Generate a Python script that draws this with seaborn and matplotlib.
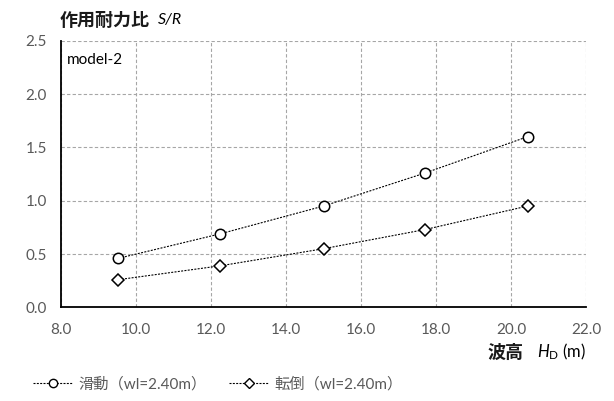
import matplotlib
matplotlib.use("Agg")
import matplotlib.pyplot as plt
import seaborn as sns
import pandas as pd
from matplotlib.lines import Line2D

# Data
wave_height = [9.53, 12.25, 15.0, 17.71, 20.44]
sliding = [0.46, 0.69, 0.95, 1.26, 1.60]
overturning = [0.26, 0.39, 0.55, 0.73, 0.95]
series_names = ["滑動（wl=2.40m）", "転倒（wl=2.40m）"]
x_ticks = [8.0, 10.0, 12.0, 14.0, 16.0, 18.0, 20.0, 22.0]
y_ticks = [0.0, 0.5, 1.0, 1.5, 2.0, 2.5]

sns.set_style("white")
plt.rcParams['font.family'] = ['Lato', 'Noto Sans CJK JP', 'DejaVu Sans']
plt.rcParams['mathtext.fontset'] = 'custom'
plt.rcParams['mathtext.rm'] = 'Lato'
plt.rcParams['mathtext.it'] = 'Lato:italic'

df = pd.DataFrame({
    "x": wave_height * 2,
    "y": sliding + overturning,
    "series": [series_names[0]] * 5 + [series_names[1]] * 5,
})

fig = plt.figure(figsize=(6.14, 4.01), dpi=100)
ax = fig.add_axes([61/614, 1 - 307.4/401, (586 - 61)/614, (307.4 - 40.7)/401])

LS = (0, (1.8, 1.2))
markers = {series_names[0]: 'o', series_names[1]: 'D'}
sizes = {series_names[0]: 7.5, series_names[1]: 6.5}
for name in series_names:
    sub = df[df.series == name]
    sns.lineplot(data=sub, x="x", y="y", ax=ax, color='black', linestyle=LS,
                 linewidth=0.8, marker=markers[name], markersize=sizes[name],
                 markerfacecolor='white', markeredgecolor='black', markeredgewidth=1.1,
                 legend=False)

ax.set_xlim(8, 22)
ax.set_ylim(0, 2.5)
ax.set_xticks(x_ticks)
ax.set_yticks(y_ticks)
ax.set_xticklabels([f"{v:.1f}" for v in x_ticks])
ax.set_yticklabels([f"{v:.1f}" for v in y_ticks])
ax.tick_params(axis='both', length=0, labelsize=11, colors='#595959')
ax.tick_params(axis='x', pad=11)
ax.tick_params(axis='y', pad=10)
ax.grid(True, color='#a6a6a6', linestyle=(0, (3, 2)), linewidth=0.8)
ax.set_axisbelow(True)
ax.set_xlabel("")
ax.set_ylabel("")
for s in ['top', 'right']:
    ax.spines[s].set_visible(False)
ax.spines['left'].set_color('black')
ax.spines['left'].set_linewidth(1.3)
ax.spines['bottom'].set_color('black')
ax.spines['bottom'].set_linewidth(1.3)

# Title texts
fig.text(60/614, 1 - 20/401, "作用耐力比", fontsize=13, fontweight='bold', color='#1a1a1a',
         va='center', ha='left', family=['Noto Sans CJK JP'])
fig.text(158/614, 1 - 20/401, "S/R", fontsize=11.5, style='italic', color='black',
         va='center', ha='left')
ax.text(0.012, 0.955, "model-2", transform=ax.transAxes, fontsize=11, color='black',
        va='top', ha='left')

fig.text(488/614, 1 - 352/401, "波高", fontsize=13, fontweight='bold', color='#1a1a1a',
         va='center', ha='left', family=['Noto Sans CJK JP'])
fig.text(586/614, 1 - 352/401, "$\\mathit{H}_\\mathrm{D}$ (m)", fontsize=12,
         color='black', va='center', ha='right')

handles = [
    Line2D([], [], color='black', linestyle=LS, linewidth=0.8, marker='o',
           markersize=6, markerfacecolor='white', markeredgecolor='black'),
    Line2D([], [], color='black', linestyle=LS, linewidth=0.8, marker='D',
           markersize=5, markerfacecolor='white', markeredgecolor='black'),
]
leg = fig.legend(handles, series_names, loc='center left', bbox_to_anchor=(33/614, 1 - 384/401),
                 ncol=2, frameon=False, fontsize=11, handlelength=2.6, columnspacing=1.5,
                 handletextpad=0.35, labelcolor='#595959', borderpad=0, borderaxespad=0)

fig.savefig("out.png", dpi=100)
